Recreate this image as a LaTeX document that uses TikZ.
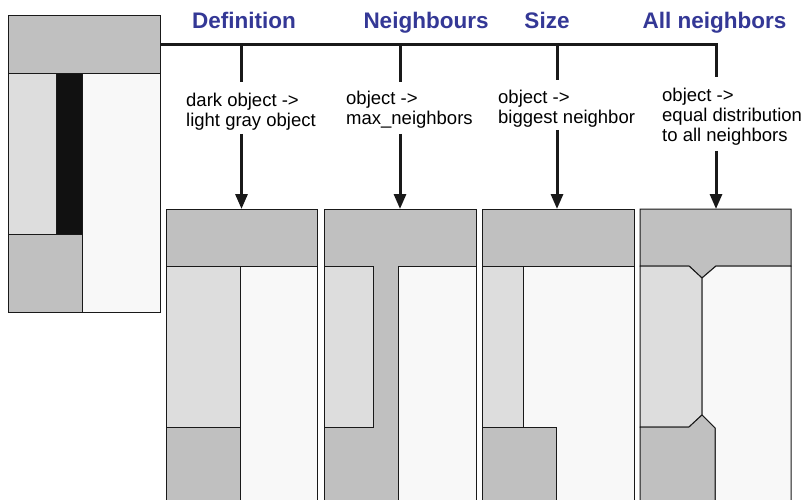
\documentclass[tikz,border=0pt]{standalone}
\usepackage{fontspec}
\setmainfont{Liberation Sans}
\usetikzlibrary{arrows.meta}
\definecolor{topgray}{RGB}{192,192,192}
\definecolor{lightgray}{RGB}{221,221,221}
\definecolor{offwhite}{RGB}{248,248,248}
\definecolor{darkobj}{RGB}{17,17,17}
\definecolor{titleblue}{RGB}{52,56,150}
\tikzset{
  region/.style={draw=black!90, line width=1pt, line join=miter},
  titletext/.style={text=titleblue, font=\fontsize{22.5}{27}\selectfont\bfseries, anchor=base, inner sep=0pt},
  desc/.style={font=\fontsize{18.5}{20}\selectfont, align=left, anchor=north west, inner sep=0pt},
  link/.style={line width=3pt, draw=black!90},
  arrowlink/.style={link, -{Triangle[length=15pt,width=12pt]}},
}
\begin{document}
\begin{tikzpicture}[x=1pt,y=-1pt]
\useasboundingbox (0,0) rectangle (803,500);
\clip (0,0) rectangle (803,500);

% ---------- source panel ----------
\fill[white] (0,0) rectangle (803,500);
\filldraw[region, fill=topgray] (8,16) rectangle (160,74);
\filldraw[region, fill=lightgray] (8,74) rectangle (56,234);
\filldraw[region, fill=darkobj] (56,74) rectangle (82,234);
\filldraw[region, fill=topgray] (8,234) rectangle (82,312);
\filldraw[region, fill=offwhite] (82,74) rectangle (160,312);
\coordinate (src) at (160,45);

% ---------- panel 1: Definition ----------
\filldraw[region, fill=topgray] (166,209) rectangle (317,266);
\filldraw[region, fill=lightgray] (166,266) rectangle (240,427);
\filldraw[region, fill=topgray] (166,427) rectangle (240,505);
\filldraw[region, fill=offwhite] (240,266) rectangle (317,505);

% ---------- panel 2: Neighbours ----------
\filldraw[region, fill=topgray] (324,209) rectangle (476,505);
\filldraw[region, fill=lightgray] (324,266) rectangle (373,427);
\filldraw[region, fill=offwhite] (398,266) rectangle (476,505);

% ---------- panel 3: Size ----------
\filldraw[region, fill=topgray] (482,209) rectangle (634,266);
\filldraw[region, fill=lightgray] (482,266) rectangle (523,427);
\filldraw[region, fill=topgray] (482,427) rectangle (556,505);
\filldraw[region, fill=offwhite] (523,266) -- (634,266) -- (634,505) -- (556,505) -- (556,427) -- (523,427) -- cycle;

% ---------- panel 4: All neighbors ----------
\filldraw[region, fill=topgray] (640,209) -- (791,209) -- (791,266) -- (716,266) -- (702,278) -- (689,266) -- (640,266) -- cycle;
\filldraw[region, fill=lightgray] (640,266) -- (689,266) -- (702,278) -- (702,415) -- (689,427) -- (640,427) -- cycle;
\filldraw[region, fill=offwhite] (716,266) -- (791,266) -- (791,505) -- (715,505) -- (715,428) -- (702,415) -- (702,278) -- cycle;
\filldraw[region, fill=topgray] (640,427) -- (689,427) -- (702,415) -- (715,428) -- (715,505) -- (640,505) -- cycle;

% ---------- titles ----------
\node[titletext] (t1) at (244,29) {Definition};
\node[titletext] (t2) at (426,29) {Neighbours};
\node[titletext] (t3) at (547,29) {Size};
\node[titletext] (t4) at (714.5,29) {All neighbors};

% ---------- descriptions ----------
\node[desc] (d1) at (186,92.8) {dark object ->\\light gray object};
\node[desc] (d2) at (346,90.8) {object ->\\max\_neighbors};
\node[desc] (d3) at (498,89.8) {object ->\\biggest neighbor};
\node[desc] (d4) at (662,87.8) {object ->\\equal distribution\\to all neighbors};

% ---------- connectors ----------
\coordinate (j1) at (241.5,45); \coordinate (u1) at (241.5,82); \coordinate (l1) at (241.5,134); \coordinate (p1) at (241.5,209);
\coordinate (j2) at (400,45);   \coordinate (u2) at (400,82);   \coordinate (l2) at (400,134);   \coordinate (p2) at (400,209);
\coordinate (j3) at (557,45);   \coordinate (u3) at (557,80);   \coordinate (l3) at (557,130);   \coordinate (p3) at (557,209);
\coordinate (j4) at (716,45);   \coordinate (u4) at (716,77);   \coordinate (l4) at (716,151);   \coordinate (p4) at (716,209);

\draw[link] (src) -- ([xshift=1.5pt]j4);
\foreach \i in {1,2,3,4} {
  \draw[link] (j\i) -- (u\i);
  \draw[arrowlink] (l\i) -- (p\i);
}
\end{tikzpicture}
\end{document}
